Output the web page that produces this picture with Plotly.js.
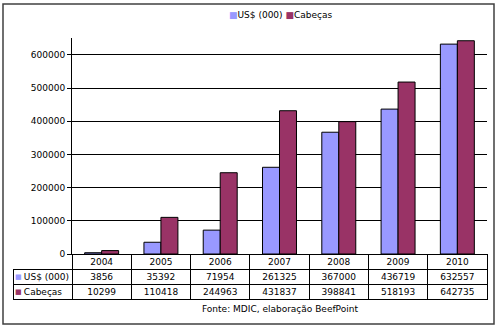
<!DOCTYPE html>
<html>
<head>
<meta charset="utf-8">
<script src="https://cdn.plot.ly/plotly-3.0.1.min.js"></script>
<style>html,body{margin:0;padding:0;background:#fff;}#chart{width:499px;height:330px;}</style>
</head>
<body>
<div id="chart"></div>
<script>
var years = ["2004", "2005", "2006", "2007", "2008", "2009", "2010"];
var usd = [3856, 35392, 71954, 261325, 367000, 436719, 632557];
var cabecas = [10299, 110418, 244963, 431837, 398841, 518193, 642735];
var seriesNames = ["US$ (000)", "Cabeças"];
var seriesColors = ["#9999FF", "#993366"];
var yTicks = [0, 100000, 200000, 300000, 400000, 500000, 600000];
var source = "Fonte: MDIC, elaboração BeefPoint";

var W = 499, H = 330;
var mL = 13, mR = 12, mT = 38, mB = 5;
var plotW = W - mL - mR, plotH = H - mT - mB;
var axisLeftPx = 72, axisBottomPx = 254;
var xDomStart = (axisLeftPx - mL) / plotW;
var yDomStart = (H - mB - axisBottomPx) / plotH;
var textShift = 4 / plotH;
var font = "DejaVu Sans, Verdana, sans-serif";
function px(x) { return (x - mL) / plotW; }
function py(y) { return (H - mB - y) / plotH; }

var traces = [
  {type: "bar", x: years, y: usd, name: seriesNames[0],
   marker: {color: seriesColors[0], line: {color: "#000", width: 1}}, hoverinfo: "none"},
  {type: "bar", x: years, y: cabecas, name: seriesNames[1],
   marker: {color: seriesColors[1], line: {color: "#000", width: 1}}, hoverinfo: "none"}
];

var headerVals = [""].concat(years);
var cellCols = [[("\u00a0" + seriesNames[0]).replace(/ /g, "\u00a0"), ("\u00a0" + seriesNames[1]).replace(/ /g, "\u00a0")]];
for (var i = 0; i < years.length; i++) cellCols.push([String(usd[i]), String(cabecas[i])]);
var emptyHeader = headerVals.map(function () { return ""; });
var emptyCells = cellCols.map(function (c) { return c.map(function () { return ""; }); });
var headerLine = ["rgba(0,0,0,0)"], headerFill = ["rgba(0,0,0,0)"];
var aligns = ["left"];
var widths = [axisLeftPx - mL];
for (var j = 0; j < years.length; j++) {
  headerLine.push("#000"); headerFill.push("#fff"); aligns.push("center");
  widths.push((W - mR - axisLeftPx) / years.length);
}
var tfont = {family: font, size: 9, color: "#000"};
var clear = "rgba(0,0,0,0)";

// grid layer of the data table
traces.push({
  type: "table", domain: {x: [0, 1], y: [0, yDomStart]}, columnwidth: widths,
  header: {values: emptyHeader, height: 15, line: {color: headerLine, width: 1}, fill: {color: headerFill}, font: tfont},
  cells: {values: emptyCells, height: 15, line: {color: "#000", width: 1}, fill: {color: "#fff"}, font: tfont}
});
// text layer of the data table (vertically centred in the rows)
traces.push({
  type: "table", domain: {x: [0, 1], y: [0, yDomStart + textShift]}, columnwidth: widths,
  header: {values: headerVals, height: 15, align: "center", line: {color: clear, width: 1}, fill: {color: clear}, font: tfont},
  cells: {values: cellCols, height: 15, align: aligns, line: {color: clear, width: 1}, fill: {color: clear}, font: tfont}
});

var annotations = [
  {text: source, xref: "paper", yref: "paper", x: px(280), y: py(309),
   xanchor: "center", yanchor: "middle", showarrow: false, font: tfont},
  {text: "<span style='color:" + seriesColors[0] + "'>■</span>" + seriesNames[0] +
         " <span style='color:" + seriesColors[1] + "'>■</span>" + seriesNames[1],
   xref: "paper", yref: "paper", x: px(280), y: py(15), xanchor: "center", yanchor: "middle",
   showarrow: false, font: tfont}
];
var rowY = [276.5, 291.5];
for (var k = 0; k < seriesNames.length; k++) {
  annotations.push({text: "■", xref: "paper", yref: "paper", x: px(13), y: py(rowY[k]),
    xanchor: "left", yanchor: "middle", showarrow: false,
    font: {family: font, size: 7, color: seriesColors[k]}});
}

var layout = {
  width: W, height: H,
  margin: {l: mL, r: mR, t: mT, b: mB, pad: 0},
  paper_bgcolor: "#fff", plot_bgcolor: "#fff",
  font: tfont,
  barmode: "group", bargap: 0.427, bargroupgap: 0,
  showlegend: false,
  xaxis: {domain: [xDomStart, 1], type: "category", showticklabels: false,
          showline: true, linecolor: "#000", linewidth: 1, ticks: "", showgrid: false, fixedrange: true},
  yaxis: {domain: [yDomStart, 1], range: [0, 651000], tickvals: yTicks,
          ticktext: yTicks.map(String), showline: true, linecolor: "#000", linewidth: 1,
          ticks: "outside", ticklen: 4, tickcolor: "#000", tickwidth: 1,
          showgrid: true, gridcolor: "#000", gridwidth: 1, zeroline: false,
          tickfont: tfont, fixedrange: true},
  annotations: annotations,
  shapes: [{type: "rect", xref: "paper", yref: "paper",
            x0: px(3), x1: px(494), y0: py(324), y1: py(4),
            line: {color: "#404040", width: 1.5}}]
};

Plotly.newPlot("chart", traces, layout, {staticPlot: true, displayModeBar: false});
</script>
</body>
</html>
